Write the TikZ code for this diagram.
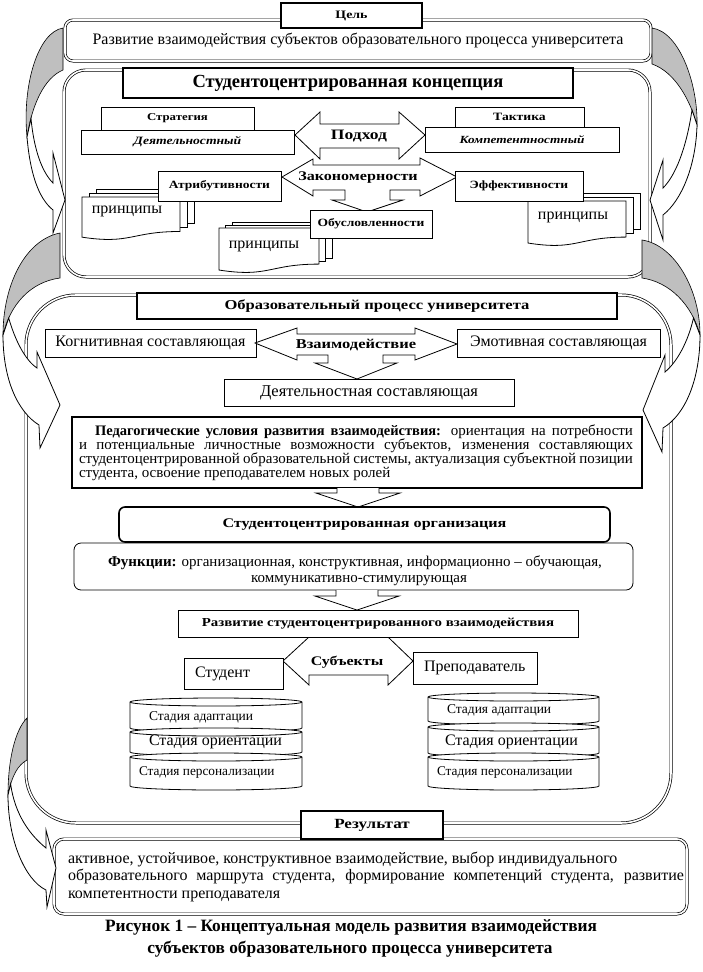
\documentclass[tikz,border=0pt]{standalone}
\usepackage{fontspec}
\setmainfont{Liberation Serif}
\newfontfamily\wbf{Liberation Serif}[FakeStretch=1.22]
\newcommand\fsz[1]{\fontsize{#1}{#1}\selectfont}
\newcommand\docsheet[4]{%
  \filldraw[shp] ({#1},{#2}) -- ({#3},{#2}) -- ({#3},{#2+0.802*#4}) .. controls ({(#1+#3)/2},{#2+0.802*#4}) and ({(#1+#3)/2},{#2+1.107*#4}) .. ({#1},{#2+0.934*#4}) -- cycle;}
\newcommand\backsheet[4]{\filldraw[shp] ({#1},{#2}) rectangle ({#3},{#2+0.802*#4});}
\newcommand\multidoc[6]{%
  \backsheet{#1+2*#5}{#2-2*#6}{#3+2*#5}{#4}
  \backsheet{#1+#5}{#2-#6}{#3+#5}{#4}
  \docsheet{#1}{#2}{#3}{#4}}
\newcommand\cylseg[5]{%
  \filldraw[shp] (#1,#3) -- (#1,#4) arc[start angle=180,end angle=360,x radius=#5pt,y radius=4pt] -- (#2,#3) arc[start angle=0,end angle=180,x radius=#5pt,y radius=4pt] -- cycle;
  \draw[line width=0.8pt] (#1,#3) arc[start angle=180,end angle=360,x radius=#5pt,y radius=4pt];}
\begin{document}
\begin{tikzpicture}[x=1pt,y=-1pt,
  bx/.style={draw, fill=white, line width=0.8pt, inner sep=0pt, outer sep=0pt, align=center},
  thk/.style={bx, line width=2pt},
  dbl/.style={draw, double=white, double distance=1.6pt, line width=0.7pt, fill=white, inner sep=0pt, outer sep=0pt},
  shp/.style={draw, fill=white, line width=0.8pt, line join=miter},
  gry/.style={draw, fill=black!25, line width=0.6pt},
  lbl/.style={inner sep=0pt, outer sep=0pt, align=center},
  ]
\useasboundingbox (0,0) rectangle (702,972);

% ---------- frames
\node[dbl, rounded corners=8pt, minimum width=586pt, minimum height=41pt, font=\fsz{16}] (goal) at (358,40.5) {Развитие взаимодействия субъектов образовательного процесса университета};
\node[dbl, rounded corners=22pt, minimum width=586pt, minimum height=207pt] (concept) at (357,173.5) {};
\node[dbl, rounded corners=50pt, minimum width=645pt, minimum height=528pt] (process) at (348.5,559) {};
\node[dbl, rounded corners=10pt, minimum width=633pt, minimum height=75pt] (result) at (370.5,876.5) {};

% ---------- curved arrows
\filldraw[gry] (63,28) .. controls (38,32) and (22,85) .. (27,137) .. controls (32,105) and (44,78) .. (63,70) -- cycle;
\filldraw[shp] (27,137) .. controls (30,172) and (38,198) .. (53,210) -- (53,233) -- (65,200) -- (53,153) -- (53,183) .. controls (42,172) and (34,150) .. (31,118.5) -- cycle;

\filldraw[gry] (652,28) .. controls (680,32) and (698,85) .. (697,125) .. controls (690,100) and (675,72) .. (652,64) -- cycle;
\filldraw[shp] (697,125) .. controls (696,165) and (682,200) .. (663,215) -- (663,240) -- (650,200) -- (663,160) -- (663,188) .. controls (675,176) and (686,150) .. (692,110) -- cycle;

\filldraw[gry] (60,233) .. controls (25,240) and (3,285) .. (3,335) .. controls (10,305) and (30,282) .. (60,278) -- cycle;
\filldraw[shp] (3,335) .. controls (3,380) and (18,412) .. (39,425) -- (40,448) -- (60,405) -- (37,352) -- (37,368) .. controls (25,360) and (15,340) .. (8.7,318) -- cycle;

\filldraw[gry] (642,240) .. controls (675,245) and (700,290) .. (700,335) .. controls (692,305) and (670,282) .. (642,278) -- cycle;
\filldraw[shp] (700,335) .. controls (700,380) and (685,415) .. (663,428) -- (662,452) -- (643,410) -- (665,355) -- (665,372) .. controls (677,362) and (688,342) .. (693.5,318) -- cycle;

\filldraw[gry] (27,718) .. controls (15,730) and (8,760) .. (8,795) .. controls (12,775) and (18,765) .. (27,760) -- cycle;
\filldraw[shp] (8,795) .. controls (8,840) and (25,880) .. (46,890) -- (47,907) -- (56,868) -- (46,830) -- (46,848) .. controls (30,835) and (15,815) .. (10.6,784) -- cycle;

% ---------- headers
\node[thk, line width=1.8pt, minimum width=141pt, minimum height=25pt, font=\wbf\bfseries\fsz{11.4}] (goalhead) at (351.5,15.5) {Цель};
\node[thk, minimum width=450pt, minimum height=30pt, font=\bfseries\fsz{18.5}] (ctitle) at (348,83) {Студентоцентрированная концепция};
\node[thk, minimum width=480pt, minimum height=26pt, font=\wbf\bfseries\fsz{13.6}] (ptitle) at (377,306) {Образовательный процесс университета};
\node[thk, minimum width=142pt, minimum height=28pt, font=\wbf\bfseries\fsz{14}] (reshead) at (372,825) {Результат};

% ---------- concept content
\node[bx, minimum width=153pt, minimum height=23pt, font=\wbf\bfseries\fsz{10.5}] (strat) at (177.5,118.5) {Стратегия};
\node[bx, minimum width=213pt, minimum height=24pt, font=\wbf\bfseries\itshape\fsz{11.2}] (deyat) at (187.5,142) {Деятельностный};
\node[bx, minimum width=129pt, minimum height=20pt, font=\wbf\bfseries\fsz{11.2}] (takt) at (519.5,117) {Тактика};
\node[bx, minimum width=194pt, minimum height=25pt, font=\wbf\bfseries\itshape\fsz{10.9}] (komp) at (522,139.5) {Компетентностный};

\filldraw[shp] (295,135) -- (320,112) -- (320,124) -- (399,124) -- (399,112) -- (425,135) -- (399,159) -- (399,148) -- (320,148) -- (320,159) -- cycle;
\node[lbl, font=\wbf\bfseries\fsz{14.4}] (podhod) at (359,136) {Подход};

\filldraw[shp] (282,177) -- (313,159) -- (313,165) -- (420,165) -- (420,158) -- (457,177) -- (420,196) -- (420,190) -- (390,190) -- (390,200) -- (403,200) -- (367,212) -- (332,200) -- (345,200) -- (345,190) -- (313,190) -- (313,196) -- cycle;
\node[lbl, font=\wbf\bfseries\fsz{13.2}] (zakon) at (358,178) {Закономерности};

\multidoc{82}{197}{180}{43}{7}{4}
\multidoc{219}{228}{319}{45}{6.5}{3}
\multidoc{528}{201}{626}{45}{7}{4}
\node[lbl, font=\fsz{16}] (pr1) at (127,211) {принципы};
\node[lbl, font=\fsz{16}] (pr2) at (264,246) {принципы};
\node[lbl, font=\fsz{16}] (pr3) at (573,217) {принципы};

\node[bx, minimum width=123pt, minimum height=30pt, font=\wbf\bfseries\fsz{11.1}] (attr) at (219.5,186) {Атрибутивности};
\node[bx, minimum width=128pt, minimum height=30pt, font=\wbf\bfseries\fsz{11.1}] (eff) at (519,186) {Эффективности};
\node[bx, minimum width=122pt, minimum height=28pt, font=\wbf\bfseries\fsz{11.1}] (obusl) at (371,224) {Обусловленности};

% ---------- process content
\node[bx, minimum width=211pt, minimum height=28pt, font=\fsz{16}] (kogn) at (150.5,343) {Когнитивная составляющая};
\node[bx, minimum width=203pt, minimum height=28pt, font=\fsz{16}] (emot) at (558.5,343) {Эмотивная составляющая};
\filldraw[shp] (255,343) -- (297,328) -- (297,334) -- (415,334) -- (415,328) -- (457,344) -- (415,360) -- (415,355) -- (383,355) -- (383,363) -- (397,363) -- (357,379) -- (315,363) -- (328,363) -- (328,355) -- (297,355) -- (297,360) -- cycle;
\node[lbl, font=\wbf\bfseries\fsz{13.5}] (vzaim) at (356,345) {Взаимодействие};
\node[bx, minimum width=290pt, minimum height=27pt, font=\fsz{16.5}] (dey2) at (369,392.5) {Деятельностная составляющая};

\node[thk, minimum width=570pt, minimum height=71pt] (ped) at (357,452.5) {};
\node[lbl, anchor=base west, font=\fsz{15}] (ped1) at (95,435) {\makebox[538pt][s]{\textbf{\fsz{14.5}Педагогические условия развития взаимодействия:} ориентация на потребности}};
\node[lbl, anchor=base west, font=\fsz{15}] (ped2) at (79,449) {\makebox[554pt][s]{и потенциальные личностные возможности субъектов, изменения составляющих}};
\node[lbl, anchor=base west, font=\fsz{15}] (ped3) at (79,463) {\makebox[554pt][s]{студентоцентрированной образовательной системы, актуализация субъектной позиции}};
\node[lbl, anchor=base west, font=\fsz{15}] (ped4) at (79,477) {студента, освоение преподавателем новых ролей};

\draw[shp] (337,488) -- (337,493) -- (316,493) -- (358,507) -- (400,493) -- (379,493) -- (379,488);
\node[bx, line width=1.6pt, rounded corners=6pt, minimum width=491pt, minimum height=35pt, font=\wbf\bfseries\fsz{13.2}] (org) at (364.5,524.5) {Студентоцентрированная организация};
\node[bx, rounded corners=7pt, minimum width=559pt, minimum height=47pt] (func) at (353.5,566.5) {};
\node[lbl, anchor=base, font=\fsz{15}] (func1) at (355,566) {\textbf{Функции:} организационная, конструктивная, информационно – обучающая,};
\node[lbl, anchor=base, font=\fsz{15}] (func2) at (359,582) {коммуникативно-стимулирующая};
\draw[shp] (336,590) -- (336,596) -- (315,596) -- (357,610) -- (399,596) -- (378,596) -- (378,590);

\filldraw[shp] (309,628) -- (309,637) -- (283,661) -- (309,685) -- (309,675) -- (388,675) -- (388,685) -- (413,661) -- (388,637) -- (388,628) -- cycle;
\node[bx, minimum width=400pt, minimum height=27pt, font=\wbf\bfseries\fsz{12.2}] (razv) at (378,623.5) {Развитие студентоцентрированного взаимодействия};
\node[lbl, font=\wbf\bfseries\fsz{13.1}] (subj) at (347,662) {Субъекты};
\node[bx, text width=77pt, inner xsep=11pt, align=left, minimum height=31pt, font=\fsz{16}] (stud) at (233.5,673.5) {Студент};
\node[bx, text width=102pt, inner xsep=11pt, align=left, minimum height=32pt, font=\fsz{16}] (prep) at (475,668) {Преподаватель};

\cylseg{130}{302}{702}{728}{86}
\cylseg{130}{302}{732}{752}{86}
\cylseg{130}{302}{757}{786}{86}
\cylseg{428}{599}{697}{721}{85.5}
\cylseg{428}{599}{727}{753}{85.5}
\cylseg{428}{599}{757}{786}{85.5}
\node[lbl, anchor=west, font=\fsz{13.5}] (la) at (149,717) {Стадия адаптации};
\node[lbl, anchor=west, font=\fsz{16}] (lo) at (149,742) {Стадия ориентации};
\node[lbl, anchor=west, font=\fsz{13.3}] (lp) at (139,773) {Стадия персонализации};
\node[lbl, anchor=west, font=\fsz{13.5}] (ra) at (447,710) {Стадия адаптации};
\node[lbl, anchor=west, font=\fsz{16}] (ro) at (445,742) {Стадия ориентации};
\node[lbl, anchor=west, font=\fsz{13.3}] (rp) at (437,773) {Стадия персонализации};

% ---------- result
\node[lbl, anchor=base west, font=\fsz{16}] (res1) at (68,863) {активное, устойчивое, конструктивное взаимодействие, выбор индивидуального};
\node[lbl, anchor=base west, font=\fsz{16}] (res2) at (68,880.5) {\makebox[616pt][s]{образовательного маршрута студента, формирование компетенций студента, развитие}};
\node[lbl, anchor=base west, font=\fsz{16}] (res3) at (68,898) {компетентности преподавателя};

\node[lbl, anchor=base, font=\bfseries\fsz{17.3}] (cap1) at (351,931) {Рисунок 1 – Концептуальная модель развития взаимодействия};
\node[lbl, anchor=base, font=\bfseries\fsz{17.3}] (cap2) at (350,953) {субъектов образовательного процесса университета};
\end{tikzpicture}
\end{document}
